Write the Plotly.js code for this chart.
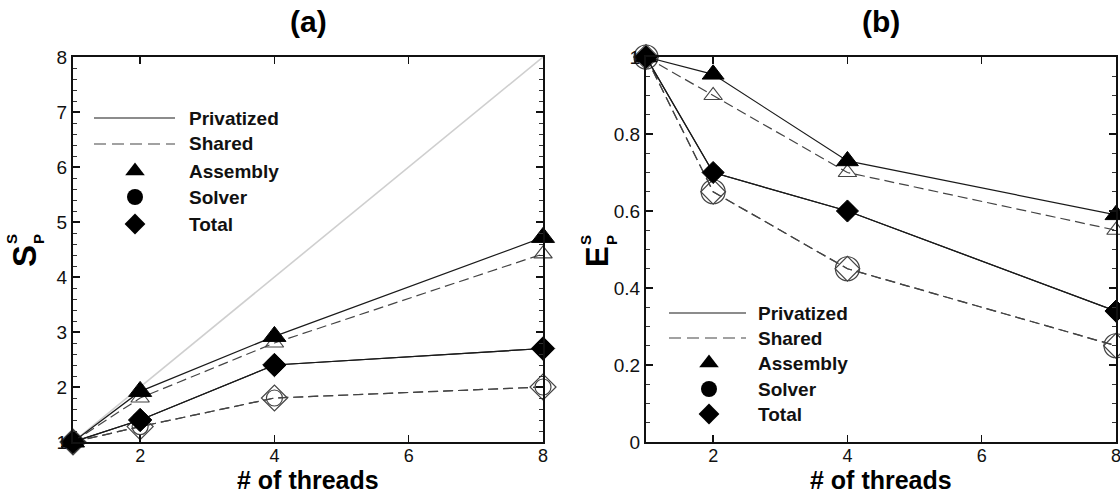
<!DOCTYPE html>
<html>
<head>
<meta charset="utf-8">
<script src="https://cdn.plot.ly/plotly-3.0.1.min.js"></script>
<style>html,body{margin:0;padding:0;background:#fff;}#chart{width:1120px;height:496px;}</style>
</head>
<body>
<div id="chart"></div>
<script>
// ---- data ----
const threads = [1, 2, 4, 8];
const idealSpeedup = [1, 2, 4, 8];
// (a) speedup S_P^S
const spAssemblyPriv   = [1, 1.92, 2.92, 4.72];
const spAssemblyShared = [1, 1.80, 2.80, 4.42];
const spSolverPriv     = [1, 1.40, 2.40, 2.70];
const spSolverShared   = [1, 1.28, 1.80, 2.00];
const spTotalPriv      = [1, 1.40, 2.40, 2.70];
const spTotalShared    = [1, 1.28, 1.80, 2.00];
// (b) efficiency E_P^S
const epAssemblyPriv   = [1, 0.955, 0.73, 0.59];
const epAssemblyShared = [1, 0.90, 0.70, 0.55];
const epSolverPriv     = [1, 0.70, 0.60, 0.34];
const epSolverShared   = [1, 0.65, 0.45, 0.25];
const epTotalPriv      = [1, 0.70, 0.60, 0.34];
const epTotalShared    = [1, 0.65, 0.45, 0.25];
const xTickVals = [2, 4, 6, 8];
const legendLabels = ["Privatized", "Shared", "Assembly", "Solver", "Total"];

// ---- layout helpers ----
const W = 1120, H = 496;
const px = v => v / W;
const py = v => 1 - v / H;
const FONT = "Liberation Sans, Arial, sans-serif";
const privLine = {color: "#1a1a1a", width: 1.2};
const sharedLine = {color: "#444", width: 1.2, dash: "10px,5px"};

function series(x, y, xa, ya, line, symbol, size, open) {
  return {
    x: x, y: y, xaxis: xa, yaxis: ya, type: "scatter", mode: "lines+markers",
    line: line, cliponaxis: false, showlegend: false, hoverinfo: "skip",
    marker: open
      ? {symbol: symbol + "-open", size: size, color: "#444", line: {color: "#444", width: 1.2}}
      : {symbol: symbol, size: size, color: "#000", line: {color: "#000", width: 1}}
  };
}

const traces = [
  {x: threads, y: idealSpeedup, xaxis: "x", yaxis: "y", type: "scatter", mode: "lines",
   line: {color: "#cfcfcf", width: 1.6}, showlegend: false, hoverinfo: "skip"},
  series(threads, spSolverShared, "x", "y", sharedLine, "circle", 16, true),
  series(threads, spTotalShared, "x", "y", sharedLine, "diamond", 20, true),
  series(threads, spAssemblyShared, "x", "y", sharedLine, "triangle-up", 16, true),
  series(threads, spSolverPriv, "x", "y", privLine, "circle", 16, false),
  series(threads, spTotalPriv, "x", "y", privLine, "diamond", 18, false),
  series(threads, spAssemblyPriv, "x", "y", privLine, "triangle-up", 20, false),

  series(threads, epSolverShared, "x2", "y2", sharedLine, "circle", 24, true),
  series(threads, epTotalShared, "x2", "y2", sharedLine, "diamond", 19, true),
  series(threads, epAssemblyShared, "x2", "y2", sharedLine, "triangle-up", 16, true),
  series(threads, epSolverPriv, "x2", "y2", privLine, "circle", 15, false),
  series(threads, epTotalPriv, "x2", "y2", privLine, "diamond", 17, false),
  series(threads, epAssemblyPriv, "x2", "y2", privLine, "triangle-up", 19, false)
];

// legend glyph markers on a full-page overlay axis (pixel units)
const legA = {x0: 94, x1: 175, mx: 135, tx: 187, rows: [118, 144, 171, 197, 224]};
const legB = {x0: 669, x1: 746, mx: 709, tx: 756, rows: [313, 338, 363, 389, 414]};
const glyphs = [["triangle-up", 17], ["circle", 16], ["diamond", 16]];
[legA, legB].forEach(L => {
  glyphs.forEach((g, i) => {
    traces.push({x: [L.mx], y: [L.rows[i + 2]], xaxis: "x3", yaxis: "y3", type: "scatter",
      mode: "markers", marker: {symbol: g[0], size: g[1], color: "#000"},
      showlegend: false, hoverinfo: "skip", cliponaxis: false});
  });
});

const shapes = [];
const annotations = [];
[legA, legB].forEach(L => {
  shapes.push({type: "line", xref: "paper", yref: "paper", x0: px(L.x0), x1: px(L.x1),
    y0: py(L.rows[0]), y1: py(L.rows[0]), line: {color: "#1a1a1a", width: 1.2}});
  shapes.push({type: "line", xref: "paper", yref: "paper", x0: px(L.x0), x1: px(L.x1),
    y0: py(L.rows[1]), y1: py(L.rows[1]), line: {color: "#444", width: 1.2, dash: "12px,6px"}});
  legendLabels.forEach((t, i) => {
    annotations.push({text: "<b>" + t + "</b>", xref: "paper", yref: "paper",
      x: px(L.tx), y: py(L.rows[i]), xanchor: "left", yanchor: "middle", showarrow: false,
      font: {family: FONT, size: 19, color: "#111"}});
  });
});

function ann(text, x, y, size, angle) {
  annotations.push({text: "<b>" + text + "</b>", xref: "paper", yref: "paper",
    x: px(x), y: py(y), xanchor: "center", yanchor: "middle", showarrow: false,
    textangle: angle || 0, borderpad: 0, font: {family: FONT, size: size, color: "#000"}});
}
ann("(a)", 308, 22, 30);
ann("(b)", 881, 22, 30);
ann("# of threads", 308, 480, 25);
ann("# of threads", 881, 480, 25);
ann("S", 24, 256, 33, -90);
ann("S", 11, 239, 15, -90);
ann("P", 38, 239, 15, -90);
ann("E", 597, 257, 31, -90);
ann("S", 585, 240, 15, -90);
ann("P", 611, 240, 15, -90);

const yDom = [py(442), py(57)];
function xax(dom, anchor) {
  return {domain: dom, anchor: anchor, range: [1, 8], tickvals: xTickVals, ticks: "inside",
    ticklen: 7, tickwidth: 1.5, tickcolor: "#111", mirror: "ticks", showline: true,
    linewidth: 2, linecolor: "#111", showgrid: false, zeroline: false,
    ticklabeloverflow: "allow", ticklabelstandoff: -4,
    tickfont: {family: FONT, size: 18, color: "#111"}};
}
function yax(range, dtick, minor, anchor) {
  return {domain: yDom, anchor: anchor, range: range, dtick: dtick, tick0: 0, ticks: "inside",
    ticklen: 7, tickwidth: 1.5, tickcolor: "#111", mirror: "ticks", showline: true,
    linewidth: 2, linecolor: "#111", showgrid: false, zeroline: false,
    ticklabeloverflow: "allow",
    minor: {dtick: minor, ticks: "inside", ticklen: 4, tickwidth: 1, tickcolor: "#333", showgrid: false},
    tickfont: {family: FONT, size: 19, color: "#111"}};
}

const layout = {
  width: W, height: H, margin: {l: 0, r: 0, t: 0, b: 0},
  paper_bgcolor: "#fff", plot_bgcolor: "rgba(0,0,0,0)",
  showlegend: false,
  xaxis: xax([px(73), px(543)], "y"),
  yaxis: yax([1, 8], 1, 0.2, "x"),
  xaxis2: xax([px(646), px(1116)], "y2"),
  yaxis2: yax([0, 1], 0.2, 0.05, "x2"),
  xaxis3: {domain: [0, 1], range: [0, W], visible: false, anchor: "y3", fixedrange: true},
  yaxis3: {domain: [0, 1], range: [H, 0], visible: false, anchor: "x3", fixedrange: true},
  shapes: shapes,
  annotations: annotations
};

Plotly.newPlot("chart", traces, layout, {staticPlot: true, displayModeBar: false});
</script>
</body>
</html>
